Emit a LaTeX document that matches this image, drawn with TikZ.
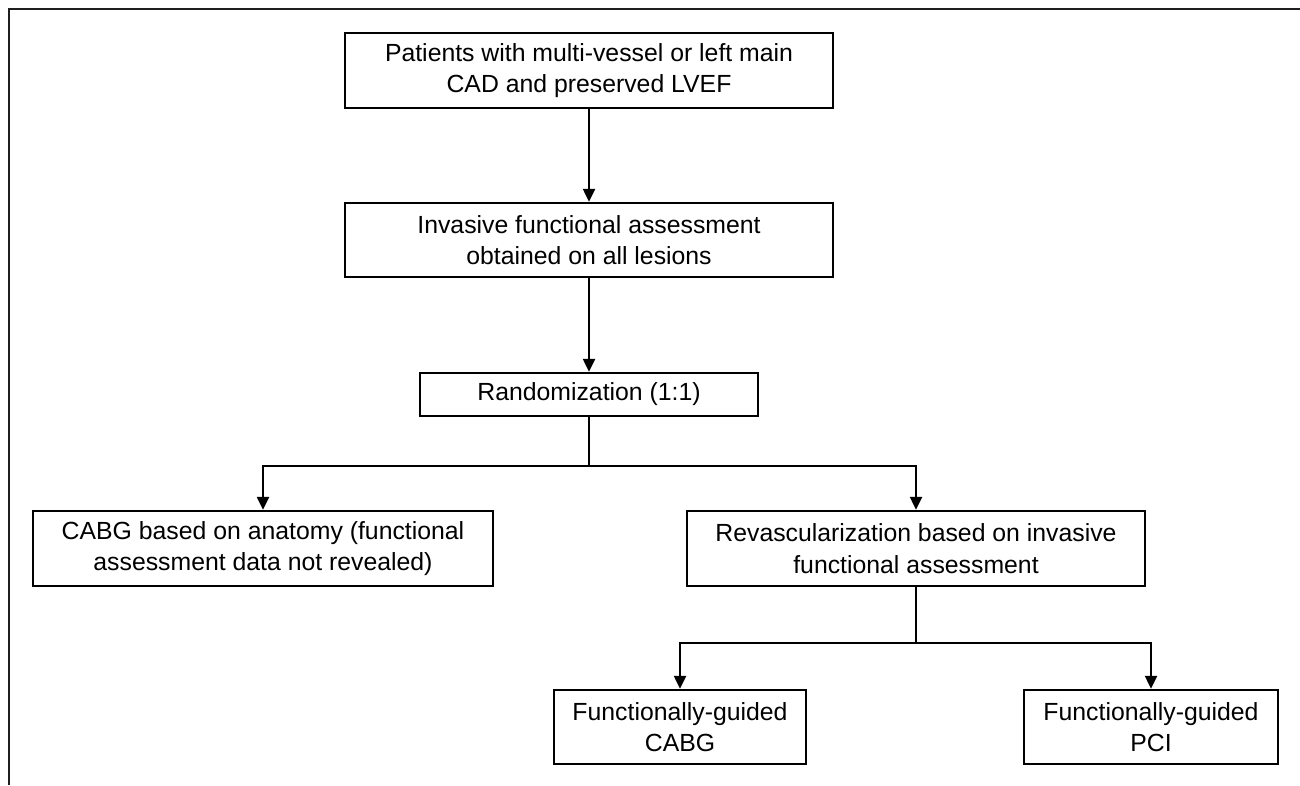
\documentclass[tikz,border=0pt]{standalone}
\usepackage{fontspec}
\setmainfont{Liberation Sans}
\usetikzlibrary{arrows.meta}
\begin{document}
\begin{tikzpicture}[x=1pt,y=-1pt,
  box/.style={draw=black, line width=2.5pt, rectangle, inner sep=0pt, align=center,
    font=\fontsize{24.8}{31.5}\selectfont},
  link/.style={line width=2.5pt, draw=black},
  arr/.style={link, -{Triangle[length=13pt,width=12pt]}},
  frameline/.style={line width=2.5pt, draw=black!88}]
\useasboundingbox (0,0) rectangle (1300,785);
% outer frame
\coordinate (fa) at (9,785);
\coordinate (fb) at (9,9);
\coordinate (fc) at (1300,9);
\draw[frameline] (fa) -- (fb) -- (fc);
% boxes
\node[box, minimum width=488pt, minimum height=75pt] (b1) at (589,70.5)
  {Patients with multi-vessel or left main\\CAD and preserved LVEF};
\node[box, minimum width=488pt, minimum height=74pt] (b2) at (589,240)
  {Invasive functional assessment\\obtained on all lesions};
\node[box, minimum width=338pt, minimum height=43pt] (rand) at (589,394.5)
  {Randomization (1:1)};
\node[box, minimum width=460pt, minimum height=75pt] (cabg) at (263,548.5)
  {CABG based on anatomy (functional\\assessment data not revealed)};
\node[box, minimum width=458pt, minimum height=75pt] (rev) at (916,548.5)
  {Revascularization based on invasive\\functional assessment};
\node[box, minimum width=252pt, minimum height=74pt] (fgc) at (680,727)
  {Functionally-guided\\CABG};
\node[box, minimum width=254pt, minimum height=74pt] (pci) at (1151,727)
  {Functionally-guided\\PCI};
% connectors
\draw[arr] (b1) -- (b2);
\draw[arr] (b2) -- (rand);
\coordinate (j1) at (589,466);
\draw[link] (rand) -- (j1);
\draw[arr] (j1) -| (cabg);
\draw[arr] (j1) -| (rev);
\coordinate (j2) at (916,643);
\draw[link] (rev) -- (j2);
\draw[arr] (j2) -| (fgc);
\draw[arr] (j2) -| (pci);
\end{tikzpicture}
\end{document}
